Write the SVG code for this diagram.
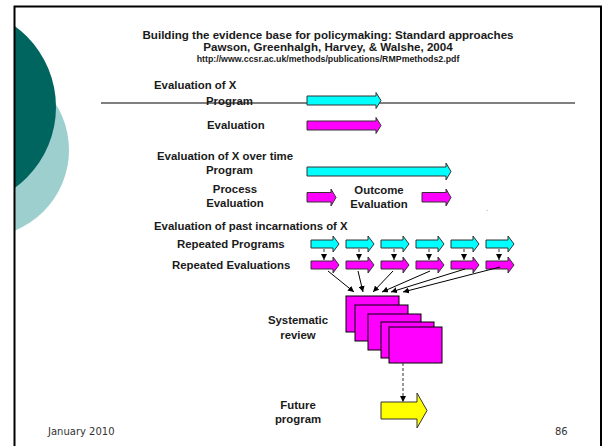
<svg xmlns="http://www.w3.org/2000/svg" width="603" height="446" viewBox="0 0 603 446">
  <style>
    .lbl { font-family: "Liberation Sans", Arial, sans-serif; font-weight: bold; font-size: 11.4px; fill: #1a1a1a; }
    .ttl { font-family: "Liberation Sans", Arial, sans-serif; font-weight: bold; font-size: 11.6px; fill: #1a1a1a; text-anchor: middle; }
    .url { font-family: "Liberation Sans", Arial, sans-serif; font-weight: bold; font-size: 8.8px; fill: #1a1a1a; text-anchor: middle; }
    .mid { text-anchor: middle; }
    .foot { font-family: "DejaVu Sans", Verdana, sans-serif; font-size: 10px; fill: #333333; }
    .prog { fill: #00ffff; stroke: #333333; stroke-width: 1; }
    .eval { fill: #ff00ff; stroke: #333333; stroke-width: 1; }
    .fut { fill: #ffff00; stroke: #333333; stroke-width: 1; }
    .card { fill: #ff00ff; stroke: #000000; stroke-width: 1; }
    .feed { stroke: #000000; stroke-width: 1; fill: none; marker-end: url(#head); }
    .dash { stroke: #333333; stroke-width: 1; stroke-dasharray: 3 2; fill: none; marker-end: url(#head); }
  </style>
  <defs>
    <marker id="head" markerUnits="userSpaceOnUse" markerWidth="7" markerHeight="6" refX="6" refY="3" orient="auto">
      <path d="M0,0 L6,3 L0,6 Z" fill="#000000"/>
    </marker>
    <clipPath id="slide">
      <rect x="15" y="7" width="585" height="439"/>
    </clipPath>
  </defs>

  <rect width="603" height="446" fill="#ffffff"/>

  <!-- decorative circles on the left edge of the slide -->
  <g clip-path="url(#slide)">
    <circle cx="-18" cy="150" r="87" fill="#9dcfcf"/>
    <circle cx="-44" cy="107" r="100" fill="#00645f"/>
  </g>

  <!-- slide frame -->
  <path d="M14.5,446 V6.5 H601 V446" fill="none" stroke="#000000" stroke-width="2"/>

  <!-- heading -->
  <g id="heading">
    <text class="ttl" x="328" y="39">Building the evidence base for policymaking: Standard approaches</text>
    <text class="ttl" x="328" y="51">Pawson, Greenhalgh, Harvey, &amp; Walshe, 2004</text>
    <text class="url" x="328" y="62">http://www.ccsr.ac.uk/methods/publications/RMPmethods2.pdf</text>
  </g>

  <!-- timeline -->
  <line x1="101" y1="103" x2="575" y2="103" stroke="#555555" stroke-width="1.5"/>

  <!-- section 1: evaluation of X -->
  <g id="eval-x-label"><text class="lbl" x="154" y="89">Evaluation of X</text></g>
  <g id="program-1">
    <text class="lbl" x="206" y="105">Program</text>
    <path class="prog" d="M307,96 H376 V92.5 L381,100.5 L376,108.5 V105 H307 Z"/>
  </g>
  <g id="evaluation-1">
    <text class="lbl" x="207" y="129">Evaluation</text>
    <path class="eval" d="M307,121 H376 V117.5 L381,125.5 L376,133.5 V130 H307 Z"/>
  </g>

  <!-- section 2: evaluation over time -->
  <g id="eval-time-label"><text class="lbl" x="157" y="160">Evaluation of X over time</text></g>
  <g id="program-2">
    <text class="lbl" x="206" y="174">Program</text>
    <path class="prog" d="M307,167 H446 V163 L451,171.5 L446,180 V176 H307 Z"/>
  </g>
  <g id="process-evaluation">
    <text class="lbl mid" x="235" y="193">Process</text>
    <text class="lbl mid" x="235" y="207">Evaluation</text>
    <path class="eval" d="M307,192.5 H331 V189 L336,197.5 L331,206 V202 H307 Z"/>
  </g>
  <g id="outcome-evaluation">
    <text class="lbl mid" x="379" y="194">Outcome</text>
    <text class="lbl mid" x="379" y="208">Evaluation</text>
    <path class="eval" d="M422,192.5 H446 V189 L451,197.5 L446,206 V202 H422 Z"/>
  </g>
  <text x="486" y="215" font-family="Liberation Sans, Arial, sans-serif" font-size="8" fill="#777777">`</text>

  <!-- section 3: past incarnations -->
  <g id="eval-past-label"><text class="lbl" x="154" y="230">Evaluation of past incarnations of X</text></g>
  <g id="repeated-programs">
    <text class="lbl" x="177" y="248">Repeated Programs</text>
    <path class="prog" d="M311,240 H333 V236 L339,244 L333,252 V248 H311 Z"/>
    <path class="prog" d="M346,240 H368 V236 L374,244 L368,252 V248 H346 Z"/>
    <path class="prog" d="M381,240 H403 V236 L409,244 L403,252 V248 H381 Z"/>
    <path class="prog" d="M416,240 H438 V236 L444,244 L438,252 V248 H416 Z"/>
    <path class="prog" d="M451,240 H473 V236 L479,244 L473,252 V248 H451 Z"/>
    <path class="prog" d="M486,240 H508 V236 L514,244 L508,252 V248 H486 Z"/>
  </g>
  <g id="repeated-evaluations">
    <text class="lbl" x="172" y="269">Repeated Evaluations</text>
    <path class="eval" d="M311,261 H333 V257 L339,265 L333,273 V269 H311 Z"/>
    <path class="eval" d="M346,261 H368 V257 L374,265 L368,273 V269 H346 Z"/>
    <path class="eval" d="M381,261 H403 V257 L409,265 L403,273 V269 H381 Z"/>
    <path class="eval" d="M416,261 H438 V257 L444,265 L438,273 V269 H416 Z"/>
    <path class="eval" d="M451,261 H473 V257 L479,265 L473,273 V269 H451 Z"/>
    <path class="eval" d="M486,261 H508 V257 L514,265 L508,273 V269 H486 Z"/>
  </g>

  <!-- systematic review stack -->
  <g id="systematic-review">
    <text class="lbl mid" x="298" y="324">Systematic</text>
    <text class="lbl mid" x="298" y="339">review</text>
    <rect class="card" x="346" y="296" width="53" height="36"/>
    <rect class="card" x="355" y="305" width="53" height="36"/>
    <rect class="card" x="368" y="314" width="53" height="36"/>
    <rect class="card" x="381" y="322" width="53" height="36"/>
    <rect class="card" x="389" y="327" width="53" height="36"/>
  </g>

  <!-- future program -->
  <g id="future-program">
    <text class="lbl mid" x="298" y="409">Future</text>
    <text class="lbl mid" x="298" y="423">program</text>
    <path class="fut" d="M381,402 H417 V393 L427,410.5 L417,428 V419 H381 Z"/>
  </g>

  <!-- connectors -->
  <g id="connectors">
    <line class="dash" x1="324" y1="249" x2="324" y2="260"/>
    <line class="dash" x1="359" y1="249" x2="359" y2="260"/>
    <line class="dash" x1="394" y1="249" x2="394" y2="260"/>
    <line class="dash" x1="429" y1="249" x2="429" y2="260"/>
    <line class="dash" x1="464" y1="249" x2="464" y2="260"/>
    <line class="dash" x1="499" y1="249" x2="499" y2="260"/>
    <line class="feed" x1="328" y1="271" x2="354" y2="292"/>
    <line class="feed" x1="358" y1="271" x2="363" y2="292"/>
    <line class="feed" x1="393" y1="271" x2="373" y2="292"/>
    <line class="feed" x1="430" y1="271" x2="382" y2="292"/>
    <line class="feed" x1="465" y1="269" x2="391" y2="292"/>
    <line class="feed" x1="500" y1="267" x2="403" y2="292"/>
    <line class="dash" x1="403" y1="363" x2="403" y2="402"/>
  </g>

  <!-- footer -->
  <text class="foot" x="48" y="435">January 2010</text>
  <text class="foot" x="555" y="435">86</text>
</svg>
